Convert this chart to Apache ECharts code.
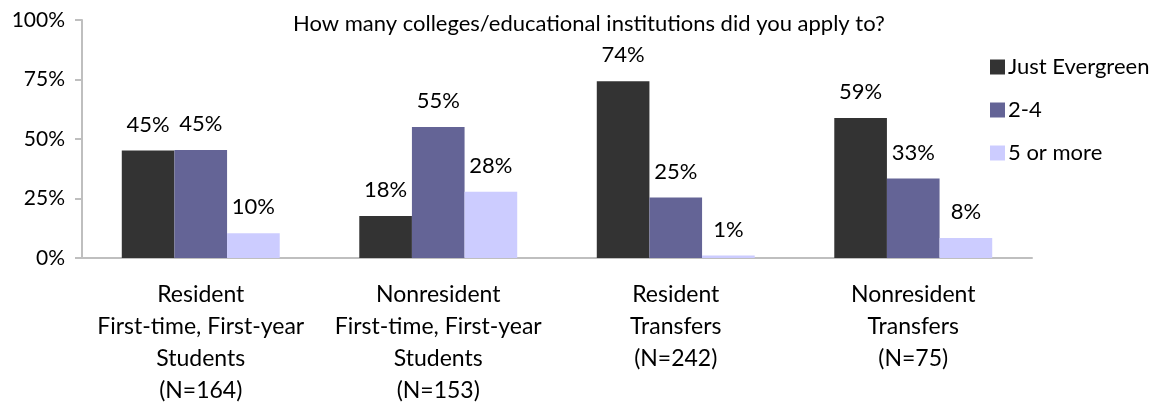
<!DOCTYPE html>
<html>
<head>
<meta charset="utf-8">
<script src="https://cdn.jsdelivr.net/npm/echarts@6/dist/echarts.min.js"></script>
<style>
  html, body { margin: 0; padding: 0; background: #fff; }
  #chart { width: 1155px; height: 408px; }
</style>
</head>
<body>
<div id="chart"></div>
<script>
// 数据
const categories = [
  'Resident\nFirst-time, First-year\nStudents\n(N=164)',
  'Nonresident\nFirst-time, First-year\nStudents\n(N=153)',
  'Resident\nTransfers\n(N=242)',
  'Nonresident\nTransfers\n(N=75)'
]
const seriesNames = ['Just Evergreen', '2-4', '5 or more']
const justEvergreen = [45.2, 17.6, 74.3, 58.8]
const twoToFour = [45.4, 55.0, 25.4, 33.4]
const fiveOrMore = [10.4, 27.8, 1.0, 8.4]
const yTicks = [0, 25, 50, 75, 100]
const colors = ['#333333', '#646496', '#ccccff']

const font = 'Lato, "Open Sans", sans-serif'
const myChart = echarts.init(document.getElementById('chart'))

function bar (name, data, color) {
  return {
    name: name,
    type: 'bar',
    data: data,
    barGap: '0%',
    barCategoryGap: '33.5%',
    itemStyle: { color: color },
    label: {
      show: true,
      position: 'top',
      distance: 15,
      color: '#000',
      fontSize: 22,
      fontFamily: font,
      formatter: p => Math.round(p.value) + '%'
    }
  }
}

myChart.setOption({
  animation: false,
  textStyle: { fontFamily: font },
  title: {
    text: 'How many colleges/educational institutions did you apply to?',
    left: 288,
    top: 8,
    textStyle: { fontSize: 22, fontWeight: 'normal', color: '#000', fontFamily: font }
  },
  legend: {
    orient: 'vertical',
    left: 985,
    top: 51,
    itemWidth: 15,
    itemHeight: 15,
    itemGap: 21,
    icon: 'rect',
    data: seriesNames,
    textStyle: { fontSize: 22, color: '#000', fontFamily: font, padding: [0, 0, 0, -2] }
  },
  grid: {
    left: 82,
    right: 123,
    top: 20,
    bottom: 150,
    containLabel: false
  },
  xAxis: {
    type: 'category',
    data: categories,
    axisLine: { lineStyle: { color: '#bfbfbf', width: 2 } },
    axisTick: { show: false },
    axisLabel: {
      interval: 0,
      margin: 21,
      fontSize: 23,
      lineHeight: 32,
      color: '#000',
      fontFamily: font
    }
  },
  yAxis: {
    type: 'value',
    min: yTicks[0],
    max: yTicks[yTicks.length - 1],
    interval: 25,
    axisLine: { show: true, lineStyle: { color: '#bfbfbf', width: 2 } },
    axisTick: { show: true, length: 7, lineStyle: { color: '#bfbfbf', width: 2 } },
    splitLine: { show: false },
    axisLabel: {
      formatter: '{value}%',
      margin: 17,
      fontSize: 21,
      color: '#000',
      fontFamily: font
    }
  },
  series: [
    bar(seriesNames[0], justEvergreen, colors[0]),
    bar(seriesNames[1], twoToFour, colors[1]),
    bar(seriesNames[2], fiveOrMore, colors[2])
  ]
})
</script>
</body>
</html>
